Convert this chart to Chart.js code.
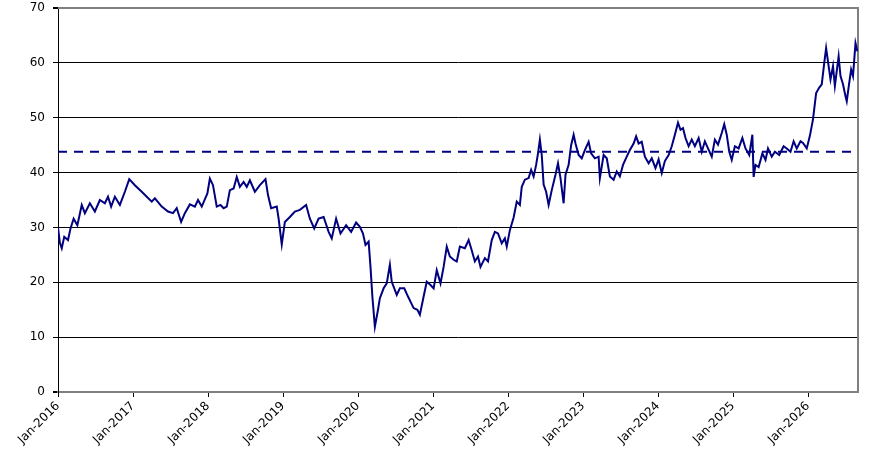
<!DOCTYPE html>
<html>
<head>
<meta charset="utf-8">
<script src="https://cdn.jsdelivr.net/npm/chart.js@4/dist/chart.umd.min.js"></script>
<style>
  html, body { margin: 0; padding: 0; background: #fff; }
  #wrap { width: 882px; height: 467px; }
</style>
</head>
<body>
<div id="wrap"><canvas id="lineChart"></canvas></div>
<script>
// months since Jan-2016
const months = [
    0.0, 0.3, 0.6, 1.0, 1.6, 2.0, 2.5, 3.1, 3.8, 4.3, 5.1, 5.9, 6.7, 7.5, 8.0, 8.5, 9.1, 9.9,
    10.7, 11.4, 12.3, 13.4, 14.2, 15.0, 15.5, 16.6, 17.6, 18.4, 19.0, 19.7, 20.3, 21.1, 21.9,
    22.4, 23.0, 23.9,
    24.3, 24.8, 25.4, 26.0, 26.5, 27.0, 27.5, 28.1, 28.6, 29.1, 29.7, 30.2, 30.7, 31.5, 32.3,
    33.2, 33.6, 34.1, 35.0, 35.3, 35.8, 36.3, 37.1, 37.9, 38.7, 39.7, 40.3, 41.0, 41.7, 42.5,
    43.3, 43.8, 44.5, 45.2, 46.1, 46.9, 47.7,
    48.3, 48.8, 49.2, 49.7, 50.0, 50.3, 50.7, 51.2, 51.5, 52.1, 52.6, 53.1, 53.4, 54.2, 54.7,
    55.4, 56.0, 56.9, 57.5, 57.9, 58.5, 59.0, 59.6, 60.1, 60.6, 61.2, 61.7, 62.2, 62.7, 63.3,
    63.8, 64.3, 65.1, 65.7, 66.1, 66.7, 67.2, 67.6, 68.3, 68.8, 69.4, 69.9, 70.4, 71.0, 71.5,
    71.8, 72.3, 72.9,
    73.4, 73.9, 74.2, 74.7, 75.3, 75.7, 76.1, 76.5, 76.8, 77.1, 77.4, 77.7, 78.1, 78.5, 79.0,
    79.6, 80.0, 80.4, 80.9, 81.2, 81.7, 82.1, 82.5, 82.8, 83.3, 83.8, 84.3, 84.9, 85.3, 85.9,
    86.5, 86.7, 87.3, 87.8, 88.3, 88.9, 89.4, 89.9, 90.4, 91.0, 91.5, 92.1, 92.5, 92.9, 93.4,
    93.9, 94.5, 95.0,
    95.6, 96.1, 96.6, 97.1, 97.7, 98.2, 98.7, 99.2, 99.6, 100.0, 100.4, 100.9, 101.4, 101.9,
    102.5, 103.0, 103.5, 104.0, 104.6, 105.1, 105.6, 106.2, 106.6, 107.0, 107.4, 107.8, 108.3,
    108.9, 109.5, 110.0, 110.6, 111.1, 111.3, 111.6, 112.1, 112.7, 113.2, 113.6, 114.2, 114.7,
    115.4, 116.1, 116.6, 117.2, 117.7, 118.2, 118.8, 119.2, 119.8, 120.3, 120.8,
    121.3, 121.8, 122.2, 122.6, 122.9, 123.3, 123.6, 124.0, 124.3, 124.9, 125.2, 125.6, 126.0,
    126.2, 126.6, 126.9, 127.2, 127.6, 127.9
];

const values = [
    30.0, 27.2, 26.2, 28.3, 27.7, 29.8, 31.6, 30.4, 34.1, 32.6, 34.4, 32.9, 35.0, 34.4, 35.6, 33.8, 35.6, 34.1,
    36.5, 38.8, 37.7, 36.5, 35.6, 34.7, 35.3, 33.8, 32.9, 32.6, 33.5, 31.0, 32.6, 34.2, 33.8,
    35.0, 33.8, 36.2,
    38.9, 37.7, 33.8, 34.1, 33.5, 33.8, 36.8, 37.1, 39.2, 37.4, 38.3, 37.4, 38.6, 36.5, 37.7,
    38.8, 35.9, 33.5, 33.8, 31.6, 26.9, 31.0, 31.9, 32.9, 33.2, 34.1, 31.6, 29.8, 31.6, 31.9,
    29.2, 28.0, 31.6, 28.9, 30.4, 29.2, 30.9,
    30.1, 28.9, 26.8, 27.4, 22.8, 17.4, 11.9, 15.0, 17.1, 18.9, 19.8, 23.2, 20.1, 17.7, 18.9,
    18.9, 17.4, 15.3, 15.0, 14.1, 17.4, 20.1, 19.5, 18.9, 22.2, 19.8, 22.8, 26.5, 24.7, 24.1,
    23.8, 26.5, 26.2, 27.7, 26.2, 23.8, 24.7, 22.8, 24.4, 23.8, 27.7, 29.2, 28.9, 27.1, 28.0,
    26.5, 29.5, 31.8,
    34.7, 34.1, 37.4, 38.7, 39.0, 40.5, 39.3, 41.4, 43.5, 46.0, 43.2, 37.8, 36.5, 34.1, 36.8,
    39.6, 41.7, 39.0, 34.4, 39.6, 41.4, 45.0, 46.9, 45.3, 43.2, 42.6, 44.1, 45.6, 43.5, 42.6,
    42.9, 39.0, 43.2, 42.6, 39.3, 38.7, 40.2, 39.3, 41.4, 42.9, 44.1, 45.3, 46.6, 45.3, 45.6,
    42.9, 41.7, 42.6,
    40.8, 42.4, 39.9, 42.1, 43.2, 44.8, 46.9, 49.1, 47.8, 48.1, 46.3, 44.8, 46.0, 44.8,
    46.3, 43.8, 45.7, 44.4, 42.9, 46.0, 45.1, 47.2, 48.8, 46.9, 43.8, 42.3, 44.8,
    44.4, 46.3, 44.4, 43.2, 46.9, 39.2, 41.4, 41.0, 43.5, 42.3, 44.4, 42.9, 43.8,
    43.2, 44.8, 44.4, 43.8, 45.7, 44.4, 45.7, 45.4, 44.4, 46.7, 49.7,
    54.5, 55.5, 56.1, 60.0, 62.7, 59.4, 57.0, 59.4, 55.8, 61.2, 57.6, 56.1, 53.9,
    53.0, 56.4, 58.8, 57.6, 63.6, 62.1
];

const averageLevel = 43.8;
const tickYears = [2016, 2017, 2018, 2019, 2020, 2021, 2022, 2023, 2024, 2025, 2026];
const lastMonth = 128;

const linePoints = months.map((m, i) => ({ x: m, y: values[i] }));
const avgPoints = [{ x: 0, y: averageLevel }, { x: lastMonth, y: averageLevel }];

// grey frame on the top and right of the plot
const framePlugin = {
    id: 'frame',
    beforeDatasetsDraw(chart) {
        const { ctx, chartArea: a } = chart;
        ctx.save();
        ctx.strokeStyle = '#808080';
        ctx.lineWidth = 2;
        ctx.beginPath();
        ctx.moveTo(a.left, a.top);
        ctx.lineTo(a.right, a.top);
        ctx.lineTo(a.right, a.bottom);
        ctx.stroke();
        ctx.restore();
    }
};

const axisFont = { family: 'DejaVu Sans', size: 12 };

new Chart(document.getElementById('lineChart').getContext('2d'), {
    type: 'line',
    data: {
        datasets: [
            {
                label: 'Series',
                data: linePoints,
                borderColor: '#000080',
                borderWidth: 2,
                pointRadius: 0,
                tension: 0
            },
            {
                label: 'Average',
                data: avgPoints,
                borderColor: '#000080',
                borderWidth: 2,
                borderDash: [9, 7],
                pointRadius: 0
            }
        ]
    },
    plugins: [framePlugin],
    options: {
        responsive: true,
        maintainAspectRatio: false,
        animation: false,
        layout: { padding: { top: 8, right: 24, left: 0, bottom: 0 } },
        plugins: { legend: { display: false }, tooltip: { enabled: false } },
        scales: {
            x: {
                type: 'linear',
                min: 0,
                max: lastMonth,
                afterBuildTicks(scale) {
                    scale.ticks = tickYears.map(y => ({ value: (y - 2016) * 12 }));
                },
                afterFit(scale) { scale.height = 75; },
                ticks: {
                    autoSkip: false,
                    minRotation: 45,
                    maxRotation: 45,
                    padding: 2,
                    color: '#000',
                    font: axisFont,
                    callback: v => 'Jan-' + (2016 + Math.round(v / 12))
                },
                grid: { drawOnChartArea: false, drawTicks: true, tickLength: 5, color: '#000' },
                border: { display: true, color: '#808080', width: 2 }
            },
            y: {
                min: 0,
                max: 70,
                afterFit(scale) {
                    scale.width = 58;
                    scale.paddingTop = 0;
                    scale.paddingBottom = 0;
                },
                ticks: { stepSize: 10, padding: 8, color: '#000', font: axisFont },
                grid: {
                    color: c => (c.tick && (c.tick.value === 70 || c.tick.value === 0)) ? '#808080' : '#000',
                    lineWidth: c => (c.tick && (c.tick.value === 70 || c.tick.value === 0)) ? 2 : 1,
                    tickLength: 5,
                    tickColor: '#000'
                },
                border: { display: true, color: '#000', width: 1 }
            }
        }
    }
});
</script>
</body>
</html>
